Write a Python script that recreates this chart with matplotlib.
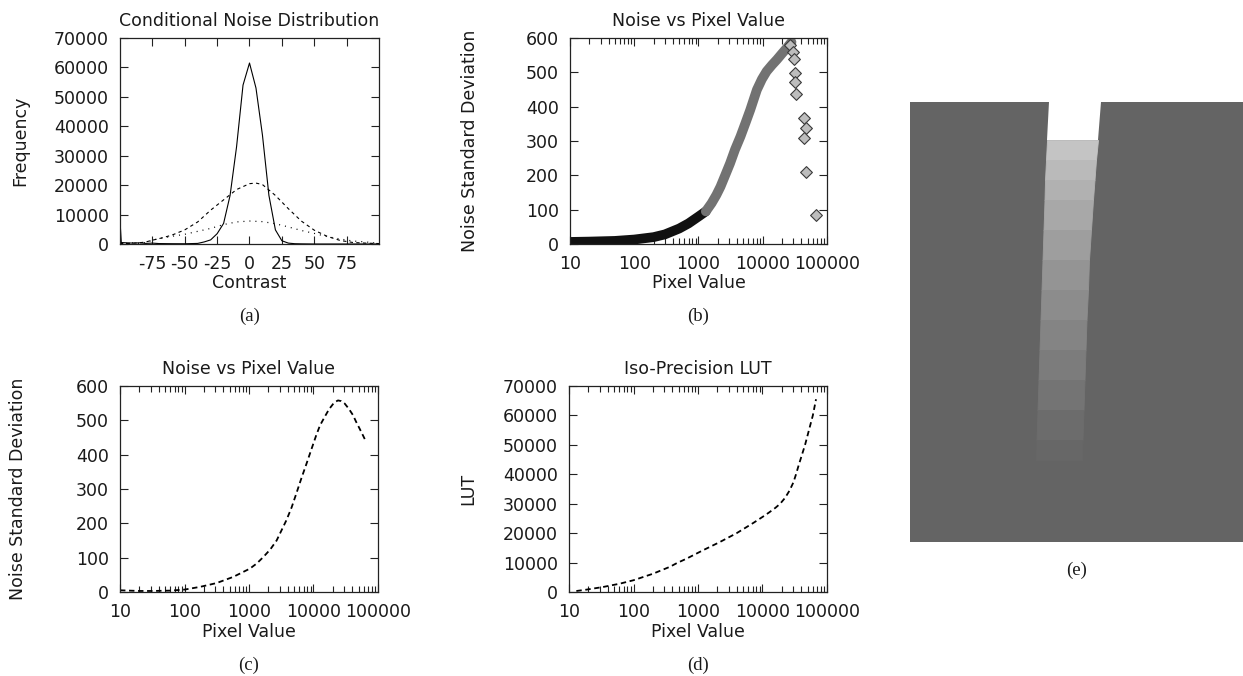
import numpy as np
import matplotlib
matplotlib.use('Agg')
import matplotlib.pyplot as plt
from matplotlib.ticker import FixedLocator, LogLocator, FuncFormatter, NullFormatter

plt.rcParams['font.family'] = ['DejaVu Sans']
plt.rcParams['axes.unicode_minus'] = False

# (a) conditional noise distribution
solid_x = [-100, -99, -95, -90, -85, -80, -75, -70, -60, -50, -40, -35, -30, -25, -20, -15, -10, -5, 0,
           5, 10, 15, 20, 25, 30, 35, 40, 50, 60, 70, 80, 90, 100]
solid_y = [8000, 500, 400, 300, 400, 200, 300, 150, 100, 80, 200, 700, 1400, 3500, 7000, 16500, 33000, 54000, 61500,
           53000, 37000, 16500, 4800, 1100, 300, 100, 50, 0, 0, 0, 0, 0, 0]
dash_x = [-100, -95, -90, -85, -80, -75, -70, -60, -50, -40, -30, -20, -10, 0, 5, 10, 20, 30, 40, 50, 60, 70, 80, 90, 100]
dash_y = [200, 150, 300, 400, 700, 1300, 1800, 3000, 4800, 7500, 11500, 15000, 18500, 20500, 20700, 20200,
          16500, 12000, 7800, 4700, 2600, 1200, 500, 300, 150]
dot_x = [-100, -95, -90, -85, -80, -75, -70, -60, -50, -40, -30, -20, -10, 0, 10, 20, 30, 40, 50, 60, 70, 80, 90, 95, 100]
dot_y = [300, 200, 400, 200, 500, 1300, 1800, 2600, 3300, 4300, 5300, 6600, 7500, 7800, 7600, 6900, 5800, 4600,
         3600, 2500, 1700, 1000, 700, 400, 500]

# (b) measured noise vs pixel value
dark_px = [10, 20, 50, 100, 200, 300, 500, 700, 1000, 1300]
dark_sd = [6, 7, 9, 13, 20, 28, 45, 60, 80, 95]
grey_px = [1300, 1600, 1900, 2200, 2600, 3100, 3700, 4500, 5400, 6400, 8100, 9700, 11500, 14000, 16600, 20000,
           23700, 28000]
grey_sd = [95, 119, 143, 167, 200, 235, 275, 313, 353, 391, 449, 480, 503, 522, 537, 555, 571, 588]
diam_px = [26500, 29200, 30600, 31800, 31800, 32600, 43900, 46600, 44400, 46600, 66700]
diam_sd = [580, 558, 538, 497, 473, 437, 366, 338, 308, 210, 84]

# (c) fitted noise curve
fit_px = [10, 20, 31, 60, 100, 175, 314, 570, 1030, 1318, 1670, 2138, 2680, 3162, 3800, 4571, 5400, 6457, 7800,
          9333, 11000, 12590, 14900, 17380, 20000, 21880, 24000, 26920, 30400, 35480, 41000, 45710, 51800, 58880,
          65500]
fit_sd = [5, 3, 3, 4, 7, 15, 26, 44, 68, 83, 102, 124, 150, 178, 209, 246, 286, 330, 374,
          417, 456, 485, 510, 532, 547, 554, 558, 556, 549, 533, 515, 496, 476, 455, 437]

# (d) iso-precision LUT
lut_px = [13, 18.6, 33.7, 61.4, 100, 200, 370, 468, 660, 1200, 2190, 3980, 7240, 10000, 12600, 15850, 18800,
          22400, 26300, 30200, 33100, 36300, 39800, 45700, 52500, 60300, 67600]
lut_val = [340, 800, 1700, 2830, 4000, 6200, 8600, 9800, 11300, 14200, 17000, 20000, 23500, 25500, 27000, 28600,
           30000, 32000, 34500, 37300, 40000, 43000, 45800, 50000, 55000, 60000, 65500]

# (e) image: wedge bands (image pixel rows, edges, grey levels)
wedge_y = [38, 58, 78, 98, 128, 158, 188, 218, 248, 278, 308, 338, 358]
wedge_left = [137, 136, 135, 134.5, 133.5, 132.5, 131.5, 130.5, 129.5, 128.5, 127.5, 126.5, 126]
wedge_right = [188, 186, 184.5, 183, 181, 179, 178, 176.5, 175.5, 174.5, 173.5, 172.5, 172]
wedge_grey = [196, 186, 177, 168, 158, 148, 140, 132, 124, 116, 108, 103]
block_grey = 100

log_ticks = [10, 100, 1000, 10000, 100000]

W, H = 1243, 676
FS = 12.5
INK = '#1a1a1a'
fig = plt.figure(figsize=(W / 100, H / 100), dpi=100)


def box(l, t, r, b):
    return [l / W, 1 - b / H, (r - l) / W, (b - t) / H]


def style(ax):
    ax.tick_params(which='both', direction='in', top=True, right=True, labelsize=FS,
                   labelcolor=INK, color='#222', pad=8)
    ax.tick_params(which='major', length=6, width=0.8)
    ax.tick_params(which='minor', length=4, width=0.8)
    for s in ax.spines.values():
        s.set_linewidth(0.9)
        s.set_color('#222')


def log_x(ax):
    ax.set_xscale('log')
    ax.set_xlim(10, 100000)
    ax.xaxis.set_major_locator(FixedLocator(log_ticks))
    ax.xaxis.set_major_formatter(FuncFormatter(lambda v, p: f'{int(round(v))}'))
    ax.xaxis.set_minor_locator(LogLocator(base=10, subs=range(2, 10), numticks=50))
    ax.xaxis.set_minor_formatter(NullFormatter())


def labels(ax, title, xl, yl, ylx, xly):
    ax.set_title(title, fontsize=FS, pad=9, color=INK)
    ax.set_xlabel(xl, fontsize=FS, va='center', color=INK)
    ax.xaxis.set_label_coords(0.5, xly)
    ax.set_ylabel(yl, fontsize=FS, va='center', color=INK)
    ax.yaxis.set_label_coords(ylx, 0.5)


# (a)
ax = fig.add_axes(box(120, 38, 379, 244))
ax.plot(solid_x, solid_y, color='black', lw=0.8)
ax.plot(dash_x, dash_y, color='black', lw=0.8, dashes=(3, 3))
ax.plot(dot_x, dot_y, color='black', lw=0.9, dashes=(0.8, 4))
ax.set_xlim(-100, 100)
ax.set_ylim(0, 70000)
ax.set_xticks([-75, -50, -25, 0, 25, 50, 75])
ax.set_yticks(range(0, 70001, 10000))
style(ax)
labels(ax, 'Conditional Noise Distribution', 'Contrast', 'Frequency', -0.386, -0.189)

# (b)
ax = fig.add_axes(box(570, 38, 827, 244))
ax.plot(dark_px, dark_sd, color='#111111', lw=7, solid_capstyle='round')
ax.plot(grey_px, grey_sd, color='#727272', lw=7, solid_capstyle='round')
ax.scatter(diam_px, diam_sd, marker='D', s=36, facecolor='#bdbdbd', edgecolor='#3a3a3a', lw=0.8, zorder=3,
           clip_on=False)
log_x(ax)
ax.set_ylim(0, 600)
ax.set_yticks(range(0, 601, 100))
style(ax)
labels(ax, 'Noise vs Pixel Value', 'Pixel Value', 'Noise Standard Deviation', -0.389, -0.189)

# (c)
ax = fig.add_axes(box(120, 386, 378, 592))
ax.plot(fit_px, fit_sd, color='black', lw=1.3, dashes=(3, 2))
log_x(ax)
ax.set_ylim(0, 600)
ax.set_yticks(range(0, 601, 100))
style(ax)
labels(ax, 'Noise vs Pixel Value', 'Pixel Value', 'Noise Standard Deviation', -0.395, -0.193)

# (d)
ax = fig.add_axes(box(569, 386, 827, 592))
ax.plot(lut_px, lut_val, color='black', lw=1.3, dashes=(3, 2))
log_x(ax)
ax.set_ylim(0, 70000)
ax.set_yticks(range(0, 70001, 10000))
style(ax)
labels(ax, 'Iso-Precision LUT', 'Pixel Value', 'LUT', -0.389, -0.193)

# (e)
ax = fig.add_axes(box(910, 102, 1243, 542))
ax.set_xlim(0, 333)
ax.set_ylim(440, 0)
ax.axis('off')
g = block_grey / 255
ax.fill_between([0, 333], 0, 440, color=(g, g, g), lw=0)
ax.fill([wedge_left[0] + 2, wedge_right[0] + 3, wedge_right[0], wedge_left[0]],
        [0, 0, wedge_y[0], wedge_y[0]], color='white', lw=0)
for i, c in enumerate(wedge_grey):
    yy = [wedge_y[i], wedge_y[i + 1]]
    cc = c / 255
    ax.fill_betweenx(yy, [wedge_left[i], wedge_left[i + 1]], [wedge_right[i], wedge_right[i + 1]],
                     facecolor=(cc, cc, cc), edgecolor=(cc, cc, cc), lw=0.6)

# panel letters
for txt, x, y in [('(a)', 250, 316), ('(b)', 698, 316), ('(c)', 249, 665), ('(d)', 698, 665), ('(e)', 1077, 570)]:
    fig.text(x / W, 1 - y / H, txt, ha='center', va='center', fontsize=13.5,
             family=['Liberation Serif', 'DejaVu Serif'], color=INK)

fig.savefig('out.png', dpi=100)
